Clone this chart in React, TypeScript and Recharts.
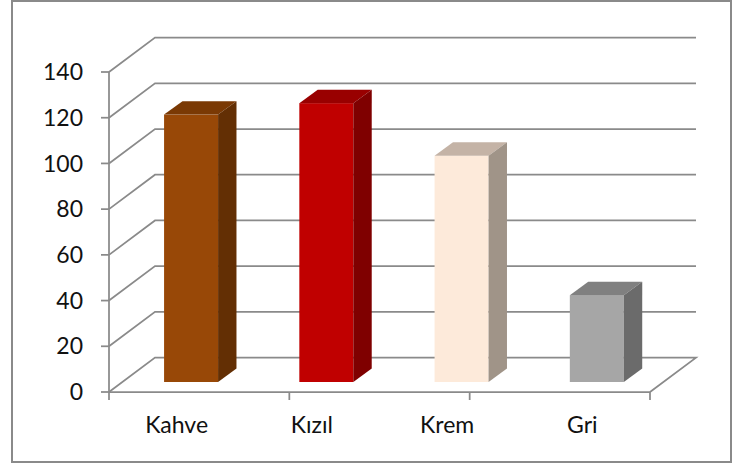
import { BarChart, Bar, XAxis, YAxis, CartesianGrid } from 'recharts';

const categories = ['Kahve', 'Kızıl', 'Krem', 'Gri'];
const values = [117, 122, 99, 38];
const yTicks = [0, 20, 40, 60, 80, 100, 120, 140];
const edgeTicks = [0, 1, 2, 3, 4];

const frontColors = ['#984807', '#c00000', '#fdeada', '#a6a6a6'];
const topColors = ['#7a3904', '#990000', '#c4b3a6', '#808080'];
const sideColors = ['#632f04', '#7f0000', '#a09488', '#6b6b6b'];

const data = categories.map((name, i) => ({ name, value: values[i] }));

// oblique 3d look: back wall offset, and where the columns sit in depth
const DEPTH_X = 46;
const DEPTH_Y = -34.4;
const BAR_SHIFT_X = 14.5;
const BAR_SHIFT_Y = -10;
const BAR_DEPTH_X = 18.4;
const BAR_DEPTH_Y = -13.4;

const GRID = '#8a8a8a';
const GRID_W = 1.75;
const FONT = 'Lato, "Open Sans", sans-serif';

function GridLine(props: any) {
    const { x1, y1, x2, y, height } = props;
    const isFloor = Math.abs(y1 - (y + height)) < 0.5;
    const d = isFloor
        ? `M${x1},${y1}L${x1 + DEPTH_X},${y1 + DEPTH_Y}L${x2 + DEPTH_X},${y1 + DEPTH_Y}L${x2},${y1}`
        : `M${x1},${y1}L${x1 + DEPTH_X},${y1 + DEPTH_Y}L${x2 + DEPTH_X},${y1 + DEPTH_Y}`;
    return <path d={d} fill="none" stroke={GRID} strokeWidth={GRID_W} />;
}

function Box3D(props: any) {
    const { x, y, width, height, payload } = props;
    const i = categories.indexOf(payload.name);
    const x0 = x + BAR_SHIFT_X;
    const x1 = x0 + width;
    const y0 = y + BAR_SHIFT_Y;
    const y1 = y0 + height;
    const top = `${x0},${y0} ${x0 + BAR_DEPTH_X},${y0 + BAR_DEPTH_Y} ${x1 + BAR_DEPTH_X},${y0 + BAR_DEPTH_Y} ${x1},${y0}`;
    const side = `${x1},${y0} ${x1 + BAR_DEPTH_X},${y0 + BAR_DEPTH_Y} ${x1 + BAR_DEPTH_X},${y1 + BAR_DEPTH_Y} ${x1},${y1}`;
    return (
        <g>
            <rect x={x0} y={y0} width={width} height={height} fill={frontColors[i]} />
            <polygon points={top} fill={topColors[i]} />
            <polygon points={side} fill={sideColors[i]} />
        </g>
    );
}

export default function App() {
    return (
        <div style={{ position: 'absolute', left: 0, top: 0, width: 733, height: 466, background: '#fff' }}>
            <div
                style={{
                    position: 'absolute',
                    left: 11,
                    top: 0,
                    width: 721,
                    height: 463,
                    boxSizing: 'border-box',
                    border: `2px solid ${GRID}`,
                }}
            />
            <div style={{ position: 'absolute', left: 0, top: 0 }}>
                <BarChart
                    width={733}
                    height={466}
                    data={data}
                    margin={{ top: 72, right: 83, bottom: 0, left: 0 }}
                    barCategoryGap="30%"
                >
                    <CartesianGrid xAxisId="b_cat" vertical={false} horizontal={(p: any) => <GridLine key={p.key} {...p} />} />
                    <XAxis
                        xAxisId="b_cat"
                        dataKey="name"
                        height={73}
                        axisLine={false}
                        tickLine={false}
                        tickSize={0}
                        tickMargin={24}
                        tick={{ fill: '#111', fontSize: 23, fontFamily: FONT }}
                    />
                    <XAxis
                        xAxisId="a_edge"
                        type="number"
                        domain={[0, categories.length]}
                        ticks={edgeTicks}
                        interval={0}
                        height={1}
                        tick={() => <g />}
                        tickSize={8}
                        tickLine={{ stroke: GRID, strokeWidth: GRID_W }}
                        axisLine={{ stroke: GRID, strokeWidth: GRID_W }}
                    />
                    <YAxis
                        width={109}
                        domain={[0, 140]}
                        ticks={yTicks}
                        interval={0}
                        tickSize={8}
                        tickMargin={18}
                        axisLine={{ stroke: GRID, strokeWidth: GRID_W }}
                        tickLine={{ stroke: GRID, strokeWidth: GRID_W }}
                        tick={{ fill: '#111', fontSize: 23, fontFamily: FONT }}
                    />
                    <Bar xAxisId="b_cat" dataKey="value" shape={(p: any) => <Box3D {...p} />} isAnimationActive={false} />
                </BarChart>
            </div>
        </div>
    );
}
